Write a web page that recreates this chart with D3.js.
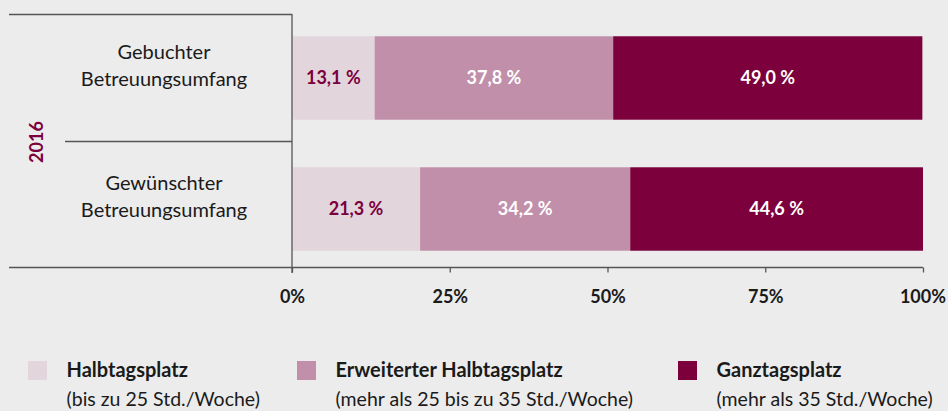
<!DOCTYPE html>
<html lang="de">
<head>
  <meta charset="UTF-8">
  <title>Betreuungsumfang 2016</title>
  <script src="https://d3js.org/d3.v7.min.js"></script>
  <style>
    body { margin: 0; background: #ececec; }
    text { font-family: "Lato", sans-serif; }
  </style>
</head>
<body>
  <div id="root"></div>
  <script>
    // Daten
    const rows = ['Gebuchter Betreuungsumfang', 'Gewünschter Betreuungsumfang']
    const rowLines = [['Gebuchter', 'Betreuungsumfang'], ['Gewünschter', 'Betreuungsumfang']]
    const seriesNames = ['Halbtagsplatz', 'Erweiterter Halbtagsplatz', 'Ganztagsplatz']
    const seriesNotes = ['(bis zu 25 Std./Woche)', '(mehr als 25 bis zu 35 Std./Woche)', '(mehr als 35 Std./Woche)']
    // Balkenlängen wie im Bild gezeichnet
    const halbtag = [13.1, 20.3]
    const erweitert = [37.8, 33.3]
    const ganztag = [49.0, 46.4]
    // Beschriftungen wie im Bild
    const halbtagLabels = ['13,1 %', '21,3 %']
    const erweitertLabels = ['37,8 %', '34,2 %']
    const ganztagLabels = ['49,0 %', '44,6 %']
    const ticks = [0, 25, 50, 75, 100]
    const yearLabel = '2016'

    const labels = [halbtagLabels, erweitertLabels, ganztagLabels]
    const colors = ['#e2d5dc', '#c18fa9', '#7b003c']
    const labelColors = ['#7b003c', '#ffffff', '#ffffff']

    const W = 948, H = 411
    const svg = d3.select('#root')
      .append('svg')
      .attr('width', W)
      .attr('height', H)
      .style('background', '#ececec')

    const x = d3.scaleLinear().domain([0, 100]).range([292, 923])
    const y = d3.scaleBand().domain(rows).range([14, 273])
      .paddingInner(0.363).paddingOuter(0.17)

    const table = rows.map((r, i) => ({ row: r, i: i, Halbtagsplatz: halbtag[i], 'Erweiterter Halbtagsplatz': erweitert[i], Ganztagsplatz: ganztag[i] }))
    const stacked = d3.stack().keys(seriesNames)(table)

    // Rahmenlinien
    const lineColor = '#555'
    svg.append('line').attr('x1', 9).attr('x2', x(0)).attr('y1', 14.5).attr('y2', 14.5)
      .attr('stroke', lineColor).attr('stroke-width', 1.3)
    svg.append('line').attr('x1', 65).attr('x2', x(0)).attr('y1', 141.5).attr('y2', 141.5)
      .attr('stroke', lineColor).attr('stroke-width', 1.3)

    // Balken
    stacked.forEach((s, si) => {
      const g = svg.append('g')
      g.selectAll('rect').data(s).join('rect')
        .attr('x', d => x(d[0]))
        .attr('y', d => y(d.data.row))
        .attr('width', d => x(d[1]) - x(d[0]))
        .attr('height', y.bandwidth())
        .attr('fill', colors[si])
      g.selectAll('text').data(s).join('text')
        .attr('x', d => (x(d[0]) + x(d[1])) / 2)
        .attr('y', d => y(d.data.row) + y.bandwidth() / 2)
        .attr('dy', '0.35em')
        .attr('text-anchor', 'middle')
        .attr('font-size', 18)
        .attr('font-weight', 'bold')
        .attr('fill', labelColors[si])
        .text(d => labels[si][d.data.i])
    })

    // x-Achse
    const axis = svg.append('g').attr('transform', 'translate(0,267.5)')
      .call(d3.axisBottom(x).tickValues(ticks).tickSize(5).tickFormat(d => d + '%'))
    axis.select('.domain').remove()
    axis.selectAll('.tick line').attr('stroke', lineColor).attr('stroke-width', 1.3)
    axis.selectAll('.tick text')
      .attr('y', 23)
      .attr('font-size', 18)
      .attr('font-weight', 'bold')
      .attr('fill', '#1a1a1a')
      .style('font-family', '"Lato", sans-serif')
    axis.select('.tick:last-of-type text').attr('text-anchor', 'end').attr('dx', '1.25em')
    svg.append('line').attr('x1', 9).attr('x2', x(100)).attr('y1', 267.5).attr('y2', 267.5)
      .attr('stroke', lineColor).attr('stroke-width', 1.3)
    svg.append('line').attr('x1', x(0)).attr('x2', x(0)).attr('y1', 14).attr('y2', 273)
      .attr('stroke', lineColor).attr('stroke-width', 1.3)

    // Zeilenbeschriftung
    rowLines.forEach((lines, i) => {
      const cy = y(rows[i]) + y.bandwidth() / 2
      const t = svg.append('text')
        .attr('text-anchor', 'middle')
        .attr('font-size', 20)
        .attr('fill', '#1a1a1a')
      lines.forEach((l, li) => {
        t.append('tspan').attr('x', 164).attr('y', cy - 19 + li * 27).text(l)
      })
    })

    svg.append('text')
      .attr('transform', 'translate(43,142) rotate(-90)')
      .attr('text-anchor', 'middle')
      .attr('font-size', 18)
      .attr('font-weight', 'bold')
      .attr('fill', '#7b003c')
      .text(yearLabel)

    // Legende
    const legendX = [28, 297, 678]
    seriesNames.forEach((name, i) => {
      const g = svg.append('g').attr('transform', `translate(${legendX[i]},361)`)
      g.append('rect').attr('width', 19).attr('height', 19).attr('fill', colors[i])
      g.append('text').attr('x', 38.5).attr('y', 16).attr('font-size', 20)
        .attr('font-weight', 'bold').attr('fill', '#1a1a1a').text(name)
      g.append('text').attr('x', 38.5).attr('y', 45).attr('font-size', 19.5)
        .attr('fill', '#1a1a1a').text(seriesNotes[i])
    })
  </script>
</body>
</html>
